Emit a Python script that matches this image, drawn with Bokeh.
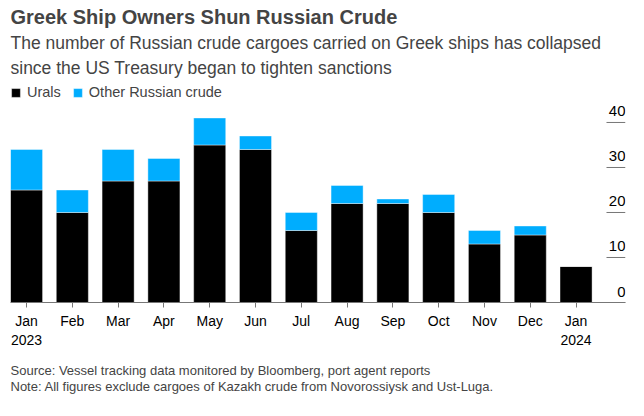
from bokeh.plotting import figure
from bokeh.models import ColumnDataSource, FixedTicker, Title, Range1d
from bokeh.core.properties import value
from bokeh.embed import file_html
from bokeh.resources import INLINE

months = ["Jan\n2023", "Feb", "Mar", "Apr", "May", "Jun", "Jul",
          "Aug", "Sep", "Oct", "Nov", "Dec", "Jan\n2024"]
urals = [25, 20, 27, 27, 35, 34, 16, 22, 22, 20, 13, 15, 8]
other = [9, 5, 7, 5, 6, 3, 4, 4, 1, 4, 3, 2, 0]
y_ticks = [0, 10, 20, 30, 40]
y_labels = ["0", "10", "20", "30", "40"]
series = ["urals", "other"]
series_names = ["Urals", "Other Russian crude"]

FONT = "Liberation Sans"
BLUE = "#00adfe"
GRAY = "#777777"

x = list(range(len(months)))
src = ColumnDataSource(dict(x=x, urals=urals, other=other))

X_START, X_END = -0.35, 13.08
Y_END = 48.44
STUB = 0.415  # length of the value-axis stubs, in x units

p = figure(frame_width=615, frame_height=218,
           x_range=Range1d(X_START, X_END), y_range=Range1d(0, Y_END),
           y_axis_location=None, title=None,
           output_backend="svg", toolbar_location=None,
           min_border_left=10, min_border_right=10,
           min_border_top=84, min_border_bottom=100)
p.outline_line_color = None
p.xgrid.visible = False
p.ygrid.visible = False
p.background_fill_color = "white"

p.vbar_stack(series, x="x", width=0.7, color=["#000000", BLUE], source=src,
             legend_label=series_names, line_color="white", line_alpha=0.4,
             line_width=1)

# x axis
xa = p.xaxis[0]
xa.ticker = FixedTicker(ticks=x)
xa.major_label_overrides = {i: m for i, m in zip(x, months)}
xa.axis_line_color = GRAY
xa.major_tick_line_color = GRAY
xa.major_tick_in = 0
xa.major_tick_out = 5
xa.minor_tick_line_color = None
xa.major_label_text_font = FONT
xa.major_label_text_font_size = "14px"
xa.major_label_text_color = "#000000"
xa.major_label_standoff = 5

# value-axis stubs on the right with labels sitting above them
n = len(y_ticks)
p.segment(x0=[X_END - STUB] * n, x1=[X_END] * n, y0=y_ticks, y1=y_ticks,
          line_color=GRAY, line_width=1)
p.text(x=[X_END] * n, y=y_ticks, text=y_labels,
       text_align="right", text_baseline="bottom", y_offset=-6,
       text_font=value(FONT), text_font_size="15px", text_color="#000000")

# legend
lg = p.legend[0]
lg.orientation = "horizontal"
lg.location = "top_left"
lg.border_line_color = None
lg.background_fill_alpha = 0
lg.label_text_font = FONT
lg.label_text_font_size = "14.5px"
lg.glyph_width = 11
lg.glyph_height = 11
lg.label_standoff = 6
lg.spacing = 11
lg.padding = 0
lg.margin = 0

# titles (later additions go outward)
p.add_layout(Title(text="The number of Russian crude cargoes carried on Greek ships has collapsed\n"
                        "since the US Treasury began to tighten sanctions",
                   text_font=FONT, text_font_size="17.5px", text_line_height=1.257,
                   text_font_style="normal", align="left", standoff=12), "above")
p.add_layout(Title(text="Greek Ship Owners Shun Russian Crude",
                   text_font=FONT, text_font_size="20px",
                   text_font_style="bold", align="left", standoff=-5), "above")

p.add_layout(Title(text="Source: Vessel tracking data monitored by Bloomberg, port agent reports\n"
                        "Note: All figures exclude cargoes of Kazakh crude from Novorossiysk and Ust-Luga.",
                   text_font=FONT, text_font_size="13px", text_line_height=1.1,
                   text_font_style="normal", align="left", standoff=19), "below")

open("out.html", "w").write(file_html(p, INLINE))
